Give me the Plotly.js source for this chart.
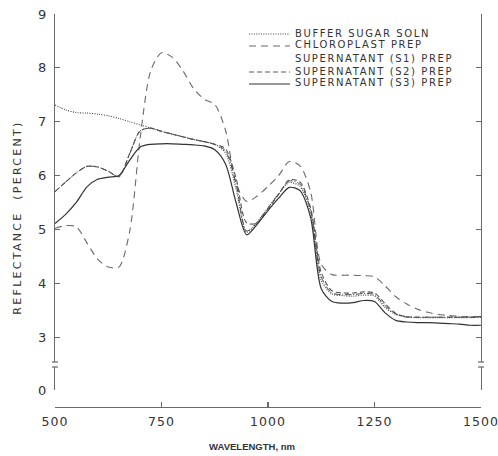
<!DOCTYPE html>
<html>
<head>
<meta charset="utf-8">
<script src="https://cdn.plot.ly/plotly-3.0.1.min.js"></script>
<style>
  html, body { margin: 0; padding: 0; background: #fff; }
  #chart { width: 498px; height: 456px; }
  #chart .annotation-text { letter-spacing: 1.6px; }
  #chart .y3title { letter-spacing: 2.3px; }
  #chart .xtick text { letter-spacing: 1px; }
</style>
</head>
<body>
<div id="chart"></div>
<script>
// ---- data ----
const wavelength = [500,525,550,575,600,625,650,675,700,725,750,775,800,825,850,875,900,925,950,975,
                    1000,1025,1050,1075,1100,1125,1150,1175,1200,1225,1250,1275,1300,1325,1350,1375,1400,1425,1450,1475,1500];

const bufferSugar = [7.31,7.22,7.17,7.16,7.14,7.11,7.06,7.00,6.94,6.88,6.82,6.77,6.72,6.67,6.63,6.58,6.42,5.75,4.95,5.14,
                     5.40,5.66,5.87,5.80,5.30,4.05,3.80,3.77,3.76,3.78,3.76,3.55,3.42,3.38,3.36,3.36,3.36,3.36,3.36,3.36,3.37];

const chloroplast = [5.02,5.07,5.05,4.75,4.45,4.30,4.30,4.95,6.70,7.95,8.28,8.20,7.95,7.62,7.42,7.32,6.85,5.85,5.52,5.62,
                     5.80,6.00,6.26,6.18,5.70,4.35,4.16,4.15,4.15,4.14,4.12,3.95,3.75,3.62,3.52,3.46,3.42,3.40,3.38,3.38,3.38];

const superS1 = [5.70,5.88,6.05,6.17,6.16,6.08,5.98,6.40,6.83,6.88,6.82,6.77,6.72,6.67,6.63,6.58,6.46,5.85,4.97,5.14,
                 5.40,5.66,5.90,5.84,5.36,4.12,3.82,3.79,3.79,3.81,3.79,3.58,3.43,3.37,3.37,3.37,3.37,3.37,3.37,3.37,3.37];

const superS2 = [5.70,5.88,6.05,6.17,6.16,6.08,5.98,6.40,6.83,6.88,6.82,6.77,6.72,6.67,6.63,6.58,6.50,5.95,5.12,5.12,
                 5.38,5.65,5.92,5.88,5.40,4.20,3.86,3.82,3.82,3.84,3.82,3.62,3.44,3.38,3.37,3.37,3.37,3.37,3.37,3.37,3.38];

const superS3 = [5.11,5.28,5.50,5.79,5.93,5.97,6.00,6.28,6.53,6.58,6.59,6.59,6.58,6.57,6.55,6.48,6.22,5.50,4.90,5.10,
                 5.35,5.58,5.78,5.72,5.22,3.90,3.66,3.63,3.64,3.68,3.66,3.45,3.31,3.28,3.27,3.27,3.26,3.25,3.24,3.22,3.22];

const seriesNames = ['BUFFER SUGAR SOLN','CHLOROPLAST PREP','SUPERNATANT (S1) PREP','SUPERNATANT (S2) PREP','SUPERNATANT (S3) PREP'];
const xTicks = [500,750,1000,1250,1500];
const xTickText = ['500','750','1000','1250','1500'];
const yTicks = [3,4,5,6,7,8,9];
const yTickText = ['3','4','5','6','7','8','9'];
const yBreakTicks = [0];
const yBreakTickText = ['0'];

// ---- styles ----
const seriesData = [bufferSugar, chloroplast, superS1, superS2, superS3];
const lineStyles = [
  {color:'#444444', width:1.1, dash:'1px,1.4px'},
  {color:'#6a6a6a', width:1.1, dash:'7px,5px'},
  {color:'#444444', width:1.0, dash:'6px,2px,1px,2px'},
  {color:'#555555', width:1.1, dash:'5px,3px'},
  {color:'#333333', width:1.2, dash:'solid'}
];

const traces = seriesData.map((vals, i) => ({
  x: wavelength, y: vals, type:'scatter', mode:'lines', name: seriesNames[i],
  line: Object.assign({shape:'spline', smoothing:0.8}, lineStyles[i]),
  xaxis:'x', yaxis:'y', showlegend:false, hoverinfo:'skip'
}));
// empty traces so that the broken lower axis segment and the title-only axes are drawn
traces.push({x:[], y:[], type:'scatter', mode:'lines', xaxis:'x', yaxis:'y2', showlegend:false, hoverinfo:'skip'});
traces.push({x:[], y:[], type:'scatter', mode:'lines', xaxis:'x', yaxis:'y3', showlegend:false, hoverinfo:'skip'});
traces.push({x:[], y:[], type:'scatter', mode:'lines', xaxis:'x3', yaxis:'y', showlegend:false, hoverinfo:'skip'});

// ---- layout geometry ----
const L = 55, R = 17, T = 14, B = 49, W = 498, H = 456;
const pw = W - L - R, ph = H - T - B;
const px2x = p => (p - L) / pw;
const py2y = p => (H - B - p) / ph;

const upperDom = [py2y(362), 1];
const lowerDom = [py2y(390), py2y(367)];
const yTitleDom = [py2y(406), py2y(29)];
const xTitleDom = [0, px2x(449)];

const axisCol = '#6a6a6a';
const textCol = '#333333';
const tickFont = {family:'DejaVu Sans', size:13, color:textCol};

// custom legend
const legY = [33, 45, 58, 71, 83];
const legendShapes = [];
const legendAnn = [];
seriesNames.forEach((nm, i) => {
  if (i !== 2) {
    legendShapes.push({type:'line', xref:'paper', yref:'paper',
      x0: px2x(249), x1: px2x(290), y0: py2y(legY[i]+1), y1: py2y(legY[i]+1),
      line:{color: lineStyles[i].color, width: 1.1, dash: lineStyles[i].dash}});
  }
  legendAnn.push({xref:'paper', yref:'paper', x: px2x(293), y: py2y(legY[i]),
    xanchor:'left', yanchor:'middle', align:'left', showarrow:false, text: nm,
    font:{family:'DejaVu Sans', size:10, color:textCol}});
});

// axis break marks
const breakShapes = [];
[0, 1].forEach(xp => {
  [upperDom[0], lowerDom[1]].forEach(yp => {
    breakShapes.push({type:'line', xref:'paper', yref:'paper', xsizemode:'pixel', xanchor: xp,
      x0:-3, x1:3, y0: yp, y1: yp, line:{color:axisCol, width:1.2}});
  });
});

const layout = {
  width: W, height: H,
  margin: {l:L, r:R, t:T, b:B, pad:0},
  paper_bgcolor:'#ffffff', plot_bgcolor:'rgba(0,0,0,0)',
  showlegend:false,
  xaxis: {
    range:[500,1500], anchor:'free', position:0,
    tickvals: xTicks, ticktext: xTickText, ticks:'inside', ticklen:5, tickcolor:axisCol, tickwidth:1.2,
    showline:true, linecolor:axisCol, linewidth:1.2, showgrid:false, zeroline:false,
    tickfont: {family:'DejaVu Sans', size:12.5, color:textCol}, ticklabelstandoff: 3,
    automargin:false
  },
  xaxis2: {
    range:[500,1500], overlaying:'x', anchor:'y', side:'top',
    tickvals: xTicks, ticks:'inside', ticklen:5, tickcolor:axisCol, tickwidth:1.2,
    showticklabels:false, showline:true, linecolor:axisCol, linewidth:1.2, showgrid:false, zeroline:false
  },
  xaxis3: {
    range:[0, 1], domain: xTitleDom, anchor:'free', position:0,
    showline:false, ticks:'', showticklabels:false, showgrid:false, zeroline:false,
    title:{text:'WAVELENGTH, nm', standoff: 36,
           font:{family:'Liberation Sans', size:9.5, color:textCol, weight:700}},
    automargin:false
  },
  yaxis: {
    range:[9 - (362-14)/53.85, 9], domain: upperDom, anchor:'x',
    tickvals: yTicks, ticktext: yTickText, ticks:'inside', ticklen:5, tickcolor:axisCol, tickwidth:1.2,
    showline:true, mirror:'ticks', linecolor:axisCol, linewidth:1.2, showgrid:false, zeroline:false,
    tickfont: tickFont, ticklabelstandoff: 5,
    automargin:false
  },
  yaxis2: {
    range:[0, 1.25], domain: lowerDom, anchor:'x',
    tickvals: yBreakTicks, ticktext: yBreakTickText, ticks:'inside', ticklen:5, tickcolor:axisCol, tickwidth:1.2,
    showline:true, mirror:'ticks', linecolor:axisCol, linewidth:1.2, showgrid:false, zeroline:false,
    tickfont: tickFont, ticklabelstandoff: 5, automargin:false
  },
  yaxis3: {
    range:[0, 1], domain: yTitleDom, anchor:'free', position:0,
    showline:false, ticks:'', showticklabels:false, showgrid:false, zeroline:false,
    title:{text:'REFLECTANCE\u00a0 (PERCENT)', standoff: 30, font:{family:'DejaVu Sans', size:11, color:textCol}},
    automargin:false
  },
  shapes: legendShapes.concat(breakShapes),
  annotations: legendAnn
};

Plotly.newPlot('chart', traces, layout, {staticPlot:true, displayModeBar:false});
</script>
</body>
</html>
